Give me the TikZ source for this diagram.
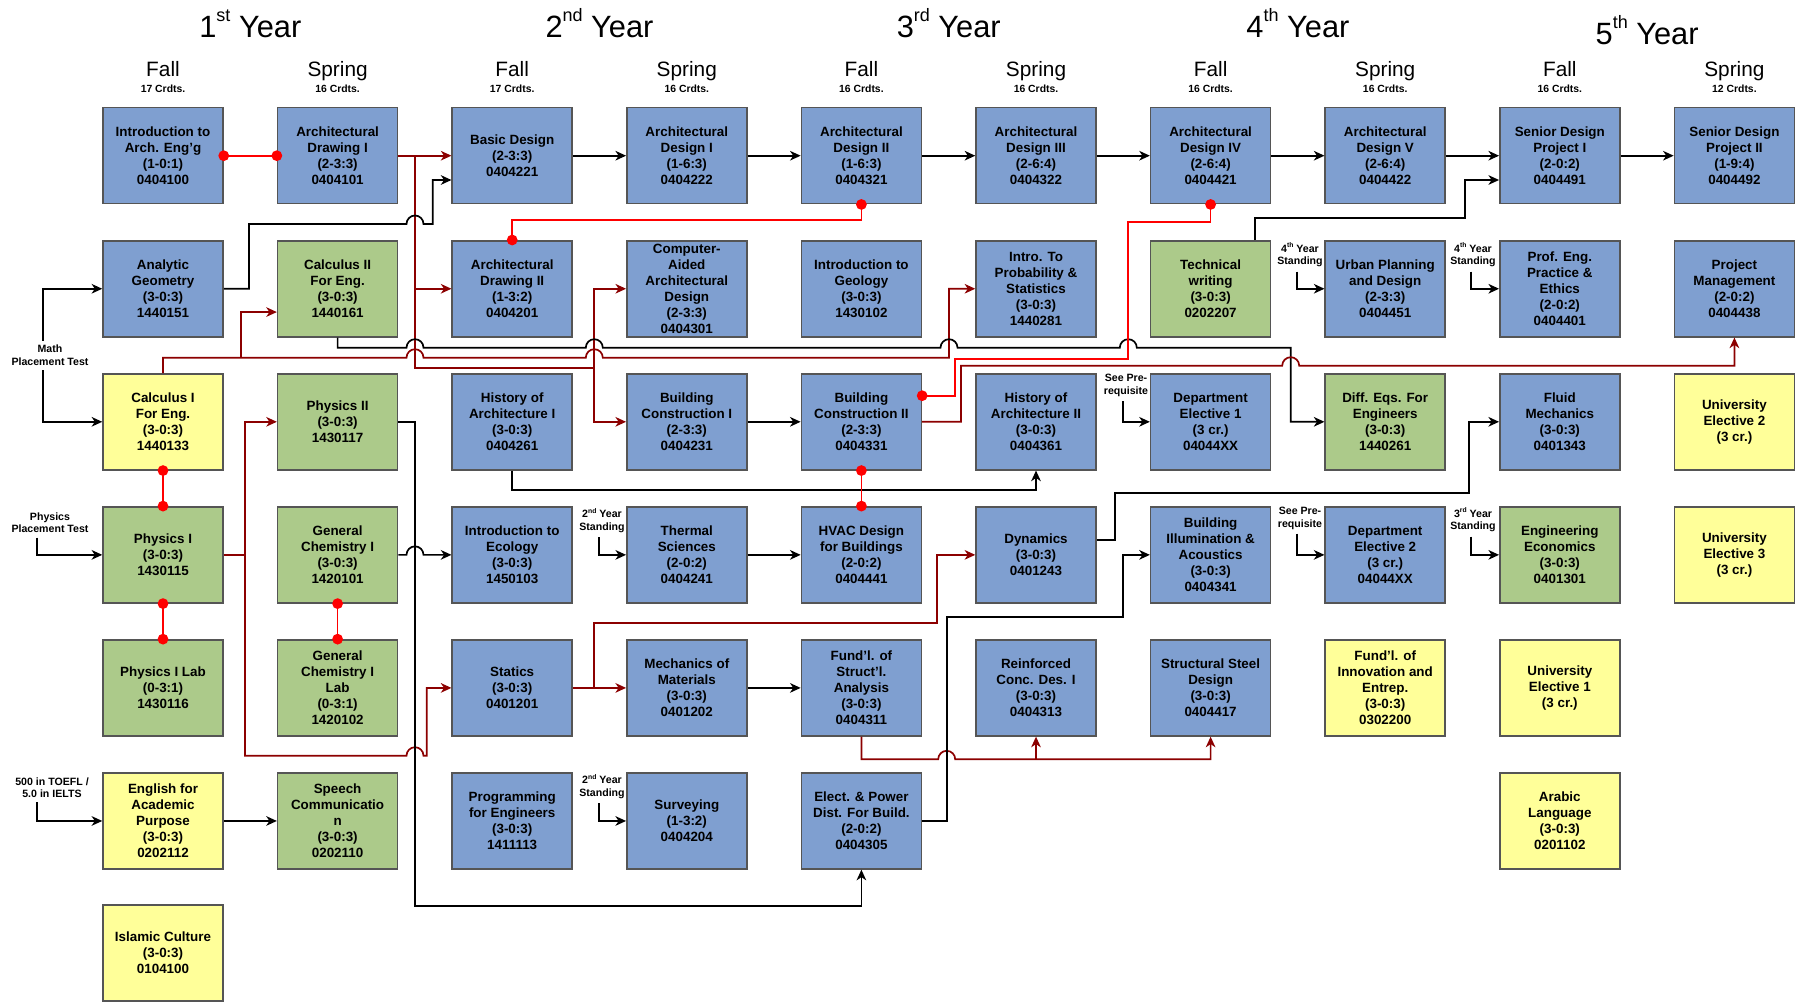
\documentclass[tikz,border=0pt]{standalone}
\usepackage{fontspec}
\setmainfont{Liberation Sans}
\usetikzlibrary{arrows.meta,calc}
\definecolor{cblue}{RGB}{127,159,208}
\definecolor{cgreen}{RGB}{172,202,138}
\definecolor{cyel}{RGB}{255,255,153}
\definecolor{cbord}{RGB}{85,85,85}
\definecolor{dredc}{RGB}{140,0,0}
\definecolor{bredc}{RGB}{255,0,0}
\newcommand\yrsup[1]{\raisebox{8pt}{\fontsize{9}{9}\selectfont #1}}
\newcommand\lblsup[1]{\raisebox{2.2pt}{\fontsize{3.4}{3.4}\selectfont #1}}
\begin{document}
\begin{tikzpicture}[x=0.5pt,y=-0.5pt,
 course/.style={draw=cbord,line width=0.75pt,minimum width=60pt,minimum height=48pt,inner sep=0pt,align=center,font=\fontsize{6.7}{8}\selectfont\bfseries},
 bl/.style={course,fill=cblue}, gr/.style={course,fill=cgreen}, ye/.style={course,fill=cyel},
 tip/.style={-{Stealth[length=5.3pt,width=4.8pt,inset=1.6pt]}},
 blk/.style={line width=0.85pt,draw=black,tip},
 drd/.style={line width=0.85pt,draw=dredc,tip},
 pblk/.style={line width=0.85pt,draw=black},
 pdrd/.style={line width=0.85pt,draw=dredc},
 coreq/.style={line width=0.85pt,draw=bredc},
 note/.style={align=center,font=\fontsize{5.3}{6.4}\selectfont\bfseries,inner sep=2pt},
 yr/.style={font=\fontsize{15.4}{16}\selectfont,anchor=base},
 sem/.style={font=\fontsize{10.4}{11}\selectfont,anchor=base},
 crd/.style={font=\fontsize{5.2}{6}\selectfont\bfseries,anchor=base}
]
\fill[white] (0,0) rectangle (1802,1001);
\path[use as bounding box] (0,0) rectangle (1802,1001);

% ---- titles
\node[yr] (y1) at (250.3,37.7) {1\yrsup{st} Year};
\node[yr] (y2) at (599.5,37.7) {2\yrsup{nd} Year};
\node[yr] (y3) at (948.7,37.7) {3\yrsup{rd} Year};
\node[yr] (y4) at (1297.9,37.7) {4\yrsup{th} Year};
\node[yr] (y5) at (1647.1,44.3) {5\yrsup{th} Year};
\foreach \x/\s/\c [count=\i] in {163/Fall/17,337.6/Spring/16,512.2/Fall/17,686.8/Spring/16,861.4/Fall/16,1036/Spring/16,1210.6/Fall/16,1385.2/Spring/16,1559.8/Fall/16,1734.4/Spring/12}{
  \node[sem] (sem\i) at (\x,76.7) {\s};
  \node[crd] (crd\i) at (\x,92) {\c{} Crdts.};
}

% ---- column 0
\node[bl] (intro) at (163,155.7) {Introduction to\\Arch. Eng’g\\(1-0:1)\\0404100};
\node[bl] (ag) at (163,288.75) {Analytic\\Geometry\\(3-0:3)\\1440151};
\node[ye] (calc1) at (163,421.8) {Calculus I\\For Eng.\\(3-0:3)\\1440133};
\node[gr] (phys1) at (163,554.85) {Physics I\\(3-0:3)\\1430115};
\node[gr] (phys1lab) at (163,687.9) {Physics I Lab\\(0-3:1)\\1430116};
\node[ye] (eng) at (163,820.95) {English for\\Academic\\Purpose\\(3-0:3)\\0202112};
\node[ye] (isl) at (163,953) {Islamic Culture\\(3-0:3)\\0104100};
% ---- column 1
\node[bl] (ad1) at (337.6,155.7) {Architectural\\Drawing I\\(2-3:3)\\0404101};
\node[gr] (calc2) at (337.6,288.75) {Calculus II\\For Eng.\\(3-0:3)\\1440161};
\node[gr] (phys2) at (337.6,421.8) {Physics II\\(3-0:3)\\1430117};
\node[gr] (chem) at (337.6,554.85) {General\\Chemistry I\\(3-0:3)\\1420101};
\node[gr] (chemlab) at (337.6,687.9) {General\\Chemistry I\\Lab\\(0-3:1)\\1420102};
\node[gr] (speech) at (337.6,820.95) {Speech\\Communicatio\\n\\(3-0:3)\\0202110};
% ---- column 2
\node[bl] (bd) at (512.2,155.7) {Basic Design\\(2-3:3)\\0404221};
\node[bl] (ad2) at (512.2,288.75) {Architectural\\Drawing II\\(1-3:2)\\0404201};
\node[bl] (ha1) at (512.2,421.8) {History of\\Architecture I\\(3-0:3)\\0404261};
\node[bl] (eco) at (512.2,554.85) {Introduction to\\Ecology\\(3-0:3)\\1450103};
\node[bl] (stat) at (512.2,687.9) {Statics\\(3-0:3)\\0401201};
\node[bl] (prog) at (512.2,820.95) {Programming\\for Engineers\\(3-0:3)\\1411113};
% ---- column 3
\node[bl] (des1) at (686.8,155.7) {Architectural\\Design I\\(1-6:3)\\0404222};
\node[bl] (cad) at (686.8,288.75) {Computer-\\Aided\\Architectural\\Design\\(2-3:3)\\0404301};
\node[bl] (bc1) at (686.8,421.8) {Building\\Construction I\\(2-3:3)\\0404231};
\node[bl] (therm) at (686.8,554.85) {Thermal\\Sciences\\(2-0:2)\\0404241};
\node[bl] (mech) at (686.8,687.9) {Mechanics of\\Materials\\(3-0:3)\\0401202};
\node[bl] (surv) at (686.8,820.95) {Surveying\\(1-3:2)\\0404204};
% ---- column 4
\node[bl] (des2) at (861.4,155.7) {Architectural\\Design II\\(1-6:3)\\0404321};
\node[bl] (geo) at (861.4,288.75) {Introduction to\\Geology\\(3-0:3)\\1430102};
\node[bl] (bc2) at (861.4,421.8) {Building\\Construction II\\(2-3:3)\\0404331};
\node[bl] (hvac) at (861.4,554.85) {HVAC Design\\for Buildings\\(2-0:2)\\0404441};
\node[bl] (fsa) at (861.4,687.9) {Fund’l. of\\Struct’l.\\Analysis\\(3-0:3)\\0404311};
\node[bl] (elec) at (861.4,820.95) {Elect. \& Power\\Dist. For Build.\\(2-0:2)\\0404305};
% ---- column 5
\node[bl] (des3) at (1036,155.7) {Architectural\\Design III\\(2-6:4)\\0404322};
\node[bl] (prob) at (1036,288.75) {Intro. To\\Probability \&\\Statistics\\(3-0:3)\\1440281};
\node[bl] (ha2) at (1036,421.8) {History of\\Architecture II\\(3-0:3)\\0404361};
\node[bl] (dyn) at (1036,554.85) {Dynamics\\(3-0:3)\\0401243};
\node[bl] (rc) at (1036,687.9) {Reinforced\\Conc. Des. I\\(3-0:3)\\0404313};
% ---- column 6
\node[bl] (des4) at (1210.6,155.7) {Architectural\\Design IV\\(2-6:4)\\0404421};
\node[gr] (tw) at (1210.6,288.75) {Technical\\writing\\(3-0:3)\\0202207};
\node[bl] (de1) at (1210.6,421.8) {Department\\Elective 1\\(3 cr.)\\04044XX};
\node[bl] (illum) at (1210.6,554.85) {Building\\Illumination \&\\Acoustics\\(3-0:3)\\0404341};
\node[bl] (steel) at (1210.6,687.9) {Structural Steel\\Design\\(3-0:3)\\0404417};
% ---- column 7
\node[bl] (des5) at (1385.2,155.7) {Architectural\\Design V\\(2-6:4)\\0404422};
\node[bl] (urban) at (1385.2,288.75) {Urban Planning\\and Design\\(2-3:3)\\0404451};
\node[gr] (diffeq) at (1385.2,421.8) {Diff. Eqs. For\\Engineers\\(3-0:3)\\1440261};
\node[bl] (de2) at (1385.2,554.85) {Department\\Elective 2\\(3 cr.)\\04044XX};
\node[ye] (innov) at (1385.2,687.9) {Fund’l. of\\Innovation and\\Entrep.\\(3-0:3)\\0302200};
% ---- column 8
\node[bl] (sd1) at (1559.8,155.7) {Senior Design\\Project I\\(2-0:2)\\0404491};
\node[bl] (prof) at (1559.8,288.75) {Prof. Eng.\\Practice \&\\Ethics\\(2-0:2)\\0404401};
\node[bl] (fluid) at (1559.8,421.8) {Fluid\\Mechanics\\(3-0:3)\\0401343};
\node[gr] (econ) at (1559.8,554.85) {Engineering\\Economics\\(3-0:3)\\0401301};
\node[ye] (ue1) at (1559.8,687.9) {University\\Elective 1\\(3 cr.)};
\node[ye] (arab) at (1559.8,820.95) {Arabic\\Language\\(3-0:3)\\0201102};
% ---- column 9
\node[bl] (sd2) at (1734.4,155.7) {Senior Design\\Project II\\(1-9:4)\\0404492};
\node[bl] (pm) at (1734.4,288.75) {Project\\Management\\(2-0:2)\\0404438};
\node[ye] (ue2) at (1734.4,421.8) {University\\Elective 2\\(3 cr.)};
\node[ye] (ue3) at (1734.4,554.85) {University\\Elective 3\\(3 cr.)};

% ---- notes
\node[note] (mpt) at (50,355.5) {Math\\Placement Test};
\node[note] (ppt) at (50,522.8) {Physics\\Placement Test};
\node[note] (tfl) at (52,787.7) {500 in TOEFL /\\5.0 in IELTS};
\node[note] (s2a) at (602,520.7) {2\lblsup{nd} Year\\Standing};
\node[note] (s2b) at (602,786.7) {2\lblsup{nd} Year\\Standing};
\node[note] (s4a) at (1300,255) {4\lblsup{th} Year\\Standing};
\node[note] (s4b) at (1473,255) {4\lblsup{th} Year\\Standing};
\node[note] (sp1) at (1126,385.7) {See Pre-\\requisite};
\node[note] (sp2) at (1300,518) {See Pre-\\requisite};
\node[note] (s3) at (1473,520) {3\lblsup{rd} Year\\Standing};

\draw[blk] ($(mpt.north)+(-7,0)$) |- (ag.west);
\draw[blk] ($(mpt.south)+(-7,0)$) |- (calc1.west);
\draw[blk] ($(ppt.south)+(-13,0)$) |- (phys1.west);
\draw[blk] ($(tfl.south)+(-15,0)$) |- (eng.west);
\draw[blk] ($(s2a.south)+(-3.3,0)$) |- (therm.west);
\draw[blk] ($(s2b.south)+(-3.3,0)$) |- (surv.west);
\draw[blk] ($(s4a.south)+(-3.3,0)$) |- (urban.west);
\draw[blk] ($(s4b.south)+(-2.3,0)$) |- (prof.west);
\draw[blk] ($(sp1.south)+(-3.3,0)$) |- (de1.west);
\draw[blk] ($(sp2.south)+(-3.3,0)$) |- (de2.west);
\draw[blk] ($(s3.south)+(-2.3,0)$) |- (econ.west);

% ---- design sequence
\draw[blk] (bd.east) -- (des1.west);
\draw[blk] (des1.east) -- (des2.west);
\draw[blk] (des2.east) -- (des3.west);
\draw[blk] (des3.east) -- (des4.west);
\draw[blk] (des4.east) -- (des5.west);
\draw[blk] (des5.east) -- (sd1.west);
\draw[blk] (sd1.east) -- (sd2.west);
\draw[blk] (bc1.east) -- (bc2.west);
\draw[blk] (therm.east) -- (hvac.west);
\draw[blk] (mech.east) -- (fsa.west);
\draw[blk] (eng.east) -- (speech.west);

% ---- Arch Drawing I prerequisites
\draw[drd] (ad1.east) -- (bd.west);
\coordinate (jA) at (415,155.7);
\coordinate (jB) at (594.3,367.7);
\draw[drd] (jA) |- (ad2.west);
\draw[pdrd] (jA) -- (415,367.7) -- (jB);
\draw[drd] (jB) |- (cad.west);
\draw[drd] (jB) |- (bc1.west);

% ---- Analytic geometry -> Basic design
\draw[blk] (ag.east) -- (249,288.75) -- (249,224) -- (406.5,224)
  arc[start angle=180,end angle=0,radius=4.25pt] -- (432.7,224) |- ($(bd.west)+(0,24.3)$);

% ---- Calculus I -> Calc II, Probability
\draw[drd] (calc1.north) -- (163,357.7) -- (406.5,357.7)
  arc[start angle=180,end angle=0,radius=4.25pt] -- (585.8,357.7)
  arc[start angle=180,end angle=0,radius=4.25pt] -- (949,357.7) |- (prob.west);
\draw[drd] (241,357.7) |- ($(calc2.west)+(0,23.3)$);

% ---- Calculus II -> Diff Eqs
\draw[blk] (calc2.south) -- (337.6,347.7) -- (406.5,347.7)
  arc[start angle=180,end angle=0,radius=4.25pt] -- (585.8,347.7)
  arc[start angle=180,end angle=0,radius=4.25pt] -- (940.5,347.7)
  arc[start angle=180,end angle=0,radius=4.25pt] -- (1119.8,347.7)
  arc[start angle=180,end angle=0,radius=4.25pt] -- (1290.7,347.7) |- (diffeq.west);

% ---- Building Construction II -> Project Management
\draw[drd] (bc2.east) -- (961,421.8) -- (961,365.7) -- (1282.2,365.7)
  arc[start angle=180,end angle=0,radius=4.25pt] -- (1734.4,365.7) -- (pm.south);

% ---- Physics I -> Physics II, Statics
\coordinate (jC) at (245,554.85);
\draw[pdrd] (phys1.east) -- (jC);
\draw[drd] (jC) |- (phys2.west);
\draw[drd] (jC) -- (245,755.7) -- (406.5,755.7)
  arc[start angle=180,end angle=0,radius=4.25pt] -- (426.7,755.7) |- (stat.west);

% ---- Physics II -> Elect. & Power
\draw[blk] (phys2.east) -- (415,421.8) -- (415,906) -| (elec.south);

% ---- Gen Chem -> Ecology
\draw[blk] (chem.east) -- (406.5,554.85)
  arc[start angle=180,end angle=0,radius=4.25pt] -- (eco.west);

% ---- Statics -> Mechanics, Dynamics
\draw[drd] (stat.east) -- (mech.west);
\draw[drd] (594.3,687.9) |- (936.7,623.3) |- (dyn.west);

% ---- Fund'l Struct'l -> RC, Steel
\draw[drd] (fsa.south) -- (861.4,759.3) -- (938.2,759.3)
  arc[start angle=180,end angle=0,radius=4.25pt] -| (steel.south);
\draw[drd] (1036,759.3) -- (rc.south);

% ---- Elect & Power -> Illumination
\draw[blk] (elec.east) -- (946.7,820.95) -- (946.7,617.3) -- (1122.7,617.3) |- (illum.west);

% ---- Dynamics -> Fluid
\draw[blk] ($(dyn.east)+(0,-15)$) -- (1115,539.85) -- (1115,493.3) -- (1469,493.3) |- (fluid.west);

% ---- History I -> History II
\draw[blk] (ha1.south) -- (512.2,490) -| (ha2.south);

% ---- Technical writing -> Senior Design I
\draw[blk] ($(tw.north)+(44.4,0)$) -- (1255,218.3) -- (1465,218.3) |- ($(sd1.west)+(0,24.3)$);

% ---- co-requisites
\draw[coreq] (intro.east) -- (ad1.west);
\fill[bredc] (intro.east) circle[radius=2.7pt] (ad1.west) circle[radius=2.7pt];
\draw[coreq] (calc1.south) -- (phys1.north);
\fill[bredc] (calc1.south) circle[radius=2.7pt] (phys1.north) circle[radius=2.7pt];
\draw[coreq] (phys1.south) -- (phys1lab.north);
\fill[bredc] (phys1.south) circle[radius=2.7pt] (phys1lab.north) circle[radius=2.7pt];
\draw[coreq] (chem.south) -- (chemlab.north);
\fill[bredc] (chem.south) circle[radius=2.7pt] (chemlab.north) circle[radius=2.7pt];
\draw[coreq] (bc2.south) -- (hvac.north);
\fill[bredc] (bc2.south) circle[radius=2.7pt] (hvac.north) circle[radius=2.7pt];
\draw[coreq] (des2.south) -- (861.4,220) -| (ad2.north);
\fill[bredc] (des2.south) circle[radius=2.7pt] (ad2.north) circle[radius=2.7pt];
\draw[coreq] (des4.south) -- (1210.6,221.7) -- (1128.3,221.7) -- (1128.3,359.3) -- (955,359.3) -- (955,395.7) -- ($(bc2.east)+(0,-26.1)$);
\fill[bredc] (des4.south) circle[radius=2.7pt] ($(bc2.east)+(0,-26.1)$) circle[radius=2.7pt];
\end{tikzpicture}
\end{document}
